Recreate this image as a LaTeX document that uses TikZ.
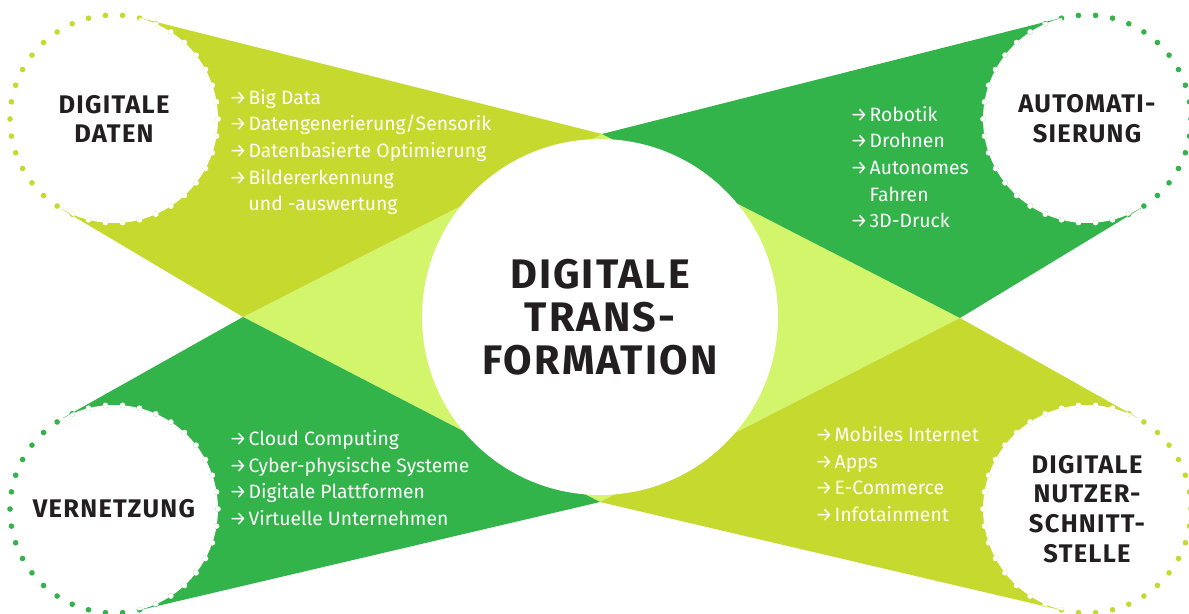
\documentclass[tikz,border=0pt]{standalone}
\usepackage{fontspec}
\setmainfont{Fira Sans}
\newfontfamily\titelfont[LetterSpace=5]{Fira Sans}
\usetikzlibrary{calc,backgrounds}

\definecolor{gelbgruen}{HTML}{C5D92E}
\definecolor{gruen}{HTML}{32B44A}
\definecolor{hellgruen}{HTML}{D3F56B}
\definecolor{schrift}{HTML}{231F20}

\newcommand{\pfeil}{\makebox[11pt][l]{→}}
\newcommand{\einzug}{\hspace*{11pt}}
\newcommand{\punktkreis}[2]{%
  \foreach \i in {1,...,38}
    \fill[#2] (#1.center) ++({\i*360/38}:2.08cm) circle (1.6pt);}

\tikzset{
  thema/.style={circle, fill=white, minimum size=4.16cm, inner sep=0pt,
    align=center, text=schrift, font=\titelfont\fontsize{14.5}{17}\selectfont\bfseries},
  liste/.style={anchor=west, align=left, inner sep=0pt, text=white,
    font=\fontsize{11}{15.2}\selectfont},
}

\begin{document}
\begin{tikzpicture}[x=0.02cm, y=-0.02cm]
  \useasboundingbox (0,0) rectangle (1189,614);

  \node[circle, fill=white, minimum size=7.12cm, inner sep=0pt, align=center,
    text=schrift, font=\titelfont\fontsize{23.5}{24.4}\selectfont\bfseries]
    (trafo) at (600,317) {DIGITALE\\TRANS-\\FORMATION};

  \node[thema] (daten) at (114,119) {DIGITALE\\DATEN};
  \node[thema] (auto) at (1087,119) {AUTOMATI-\\SIERUNG};
  \node[thema] (netz) at (114,509) {VERNETZUNG};
  \node[thema] (nutzer) at (1087,509) {DIGITALE\\NUTZER-\\SCHNITT-\\STELLE};

  \coordinate (oben) at (602,134);
  \coordinate (unten) at (600,502);
  \coordinate (links) at (243,317);
  \coordinate (rechts) at (960,318);

  \coordinate (d1) at (tangent cs:node=daten,point={(oben)},solution=1);
  \coordinate (d2) at (tangent cs:node=daten,point={(links)},solution=2);
  \coordinate (a1) at (tangent cs:node=auto,point={(oben)},solution=2);
  \coordinate (a2) at (tangent cs:node=auto,point={(rechts)},solution=1);
  \coordinate (v1) at (tangent cs:node=netz,point={(links)},solution=1);
  \coordinate (v2) at (tangent cs:node=netz,point={(unten)},solution=2);
  \coordinate (n1) at (tangent cs:node=nutzer,point={(rechts)},solution=2);
  \coordinate (n2) at (tangent cs:node=nutzer,point={(unten)},solution=1);

  \begin{scope}[on background layer]
    \fill[hellgruen] (links) -- (oben) -- (rechts) -- (unten) -- cycle;
    \fill[gelbgruen] (d1) -- (oben) -- (links) -- (d2) -- cycle;
    \fill[gruen] (a1) -- (oben) -- (rechts) -- (a2) -- cycle;
    \fill[gruen] (v1) -- (links) -- (unten) -- (v2) -- cycle;
    \fill[gelbgruen] (n1) -- (rechts) -- (unten) -- (n2) -- cycle;
  \end{scope}

  \punktkreis{daten}{gelbgruen}
  \punktkreis{auto}{gruen}
  \punktkreis{netz}{gruen}
  \punktkreis{nutzer}{gelbgruen}
  \begin{scope}
    \clip (d1) -- (oben) -- (links) -- (d2) -- cycle;
    \punktkreis{daten}{white}
  \end{scope}
  \begin{scope}
    \clip (a1) -- (oben) -- (rechts) -- (a2) -- cycle;
    \punktkreis{auto}{white}
  \end{scope}
  \begin{scope}
    \clip (v1) -- (links) -- (unten) -- (v2) -- cycle;
    \punktkreis{netz}{white}
  \end{scope}
  \begin{scope}
    \clip (n1) -- (rechts) -- (unten) -- (n2) -- cycle;
    \punktkreis{nutzer}{white}
  \end{scope}

  \node[liste] (daten-liste) at (229,152) {\pfeil Big Data\\\pfeil Datengenerierung/Sensorik\\\pfeil Datenbasierte Optimierung\\\pfeil Bildererkennung\\\einzug und -auswertung};
  \node[liste] (auto-liste) at (850,167) {\pfeil Robotik\\\pfeil Drohnen\\\pfeil Autonomes\\\einzug Fahren\\\pfeil 3D-Druck};
  \node[liste] (netz-liste) at (229,478) {\pfeil Cloud Computing\\\pfeil Cyber-physische Systeme\\\pfeil Digitale Plattformen\\\pfeil Virtuelle Unternehmen};
  \node[liste] (nutzer-liste) at (815,474) {\pfeil Mobiles Internet\\\pfeil Apps\\\pfeil E-Commerce\\\pfeil Infotainment};
\end{tikzpicture}
\end{document}
